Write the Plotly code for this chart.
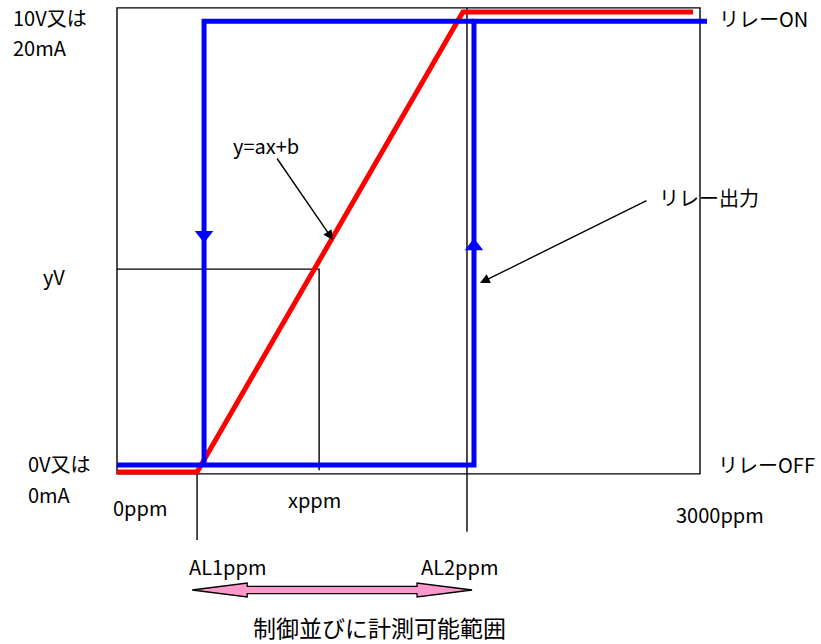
import plotly.graph_objects as go

# ---------------- data (ppm on x, volts on y) ----------------
frame_ppm = [0, 3000]
frame_volt = [-0.04, 10.09]

AL1_ppm = 412
AL2_ppm = 1801

analog_x = [0, 412, 1780, 2964]          # red analogue output y = ax + b
analog_y = [0, 0, 10, 10]

relay_low = 0.15
relay_high = 9.80
relay_on_ppm = 1837                       # relay switches ON when rising
relay_off_ppm = 448                       # relay switches OFF when falling
relay_end_ppm = 3036
relay_up_x = [0, relay_on_ppm, relay_on_ppm, relay_end_ppm]
relay_up_y = [relay_low, relay_low, relay_high, relay_high]
relay_down_x = [relay_on_ppm, relay_off_ppm, relay_off_ppm]
relay_down_y = [relay_high, relay_high, relay_low]
relay_dir_x = [relay_off_ppm, relay_on_ppm]
relay_dir_y = [5.15, 4.91]
relay_dir_sym = ["triangle-down", "triangle-up"]

sample_x = 1040                           # xppm
sample_y = 4.41                           # yV

al1_guide_y = [-0.02, -1.48]
al2_guide_y = [10.09, -1.30]

range_start = 387
range_end = 1827
range_y = -2.565

# ---------------- figure ----------------
PX_PER_PPM = 583 / 3000
PX_PER_V = 46
X0, Y0 = 117, 472
W, H = 821, 644
xr = [(0 - X0) / PX_PER_PPM, (W - X0) / PX_PER_PPM]
yr = [(Y0 - H) / PX_PER_V, Y0 / PX_PER_V]

FONT = "Noto Sans CJK JP, Noto Sans, sans-serif"
fig = go.Figure()

thin = dict(color="black", width=1.4)
# guide lines
fig.add_trace(go.Scatter(x=[AL1_ppm, AL1_ppm], y=al1_guide_y, mode="lines", line=thin))
fig.add_trace(go.Scatter(x=[AL2_ppm, AL2_ppm], y=al2_guide_y, mode="lines", line=thin))
fig.add_trace(go.Scatter(x=[frame_ppm[0], sample_x, sample_x], y=[sample_y, sample_y, 0.04],
                         mode="lines", line=thin))

# analogue output
fig.add_trace(go.Scatter(x=analog_x, y=analog_y, mode="lines",
                         line=dict(color="#FF0000", width=5)))
# relay output
blue = dict(color="#0000FF", width=5)
fig.add_trace(go.Scatter(x=relay_up_x, y=relay_up_y, mode="lines", line=blue))
fig.add_trace(go.Scatter(x=relay_down_x, y=relay_down_y, mode="lines", line=blue))
fig.add_trace(go.Scatter(x=relay_dir_x, y=relay_dir_y, mode="markers",
                         marker=dict(symbol=relay_dir_sym, size=16, color="#0000FF")))

# pink double arrow
hl = 55 / PX_PER_PPM
hh = 7 / PX_PER_V
sh = 3.7 / PX_PER_V
s, e, c = range_start, range_end, range_y
px = [s, s + hl, s + hl, e - hl, e - hl, e, e - hl, e - hl, s + hl, s + hl, s]
py = [c, c + hh, c + sh, c + sh, c + hh, c, c - hh, c - sh, c - sh, c - hh, c]
fig.add_trace(go.Scatter(x=px, y=py, mode="lines", fill="toself", fillcolor="#FF99CC",
                         line=dict(color="black", width=1.3)))

# frame
fig.add_shape(type="rect", x0=frame_ppm[0], x1=frame_ppm[1], y0=frame_volt[0], y1=frame_volt[1],
              line=dict(color="black", width=1.4), layer="below")

def px2ppm(p):
    return (p - X0) / PX_PER_PPM

def py2v(p):
    return (Y0 - p) / PX_PER_V

labels = [
    ("10V又は", 12, 17.5, 20),
    ("20mA", 12, 47.5, 20),
    ("yV", 42, 276, 20),
    ("0V又は", 27, 463, 20),
    ("0mA", 27, 494, 20),
    ("0ppm", 112, 507, 20),
    ("xppm", 287, 499, 20),
    ("3000ppm", 675, 514, 20),
    ("リレーOFF", 717, 464, 20),
    ("リレーON", 718, 18, 20),
    ("リレー出力", 658, 197, 20),
    ("y=ax+b", 232, 145, 20),
    ("AL1ppm", 188, 566, 20),
    ("AL2ppm", 420, 566, 20),
    ("制御並びに計測可能範囲", 252, 627, 23),
]
for t, lx, cy, fs in labels:
    fig.add_annotation(x=px2ppm(lx), y=py2v(cy), text=t, showarrow=False,
                       xanchor="left", yanchor="middle", borderpad=0,
                       font=dict(family=FONT, size=fs, color="black"))

# pointer arrows
for (tx, ty, hx, hy) in [(276, 157, 333, 240), (648, 200, 480, 283)]:
    fig.add_annotation(x=px2ppm(hx), y=py2v(hy), ax=px2ppm(tx), ay=py2v(ty),
                       axref="x", ayref="y", xref="x", yref="y", text="",
                       showarrow=True, arrowhead=2, arrowsize=1.4, arrowwidth=1.4,
                       arrowcolor="black", standoff=0)

fig.update_layout(
    width=W, height=H, margin=dict(l=0, r=0, t=0, b=0),
    paper_bgcolor="white", plot_bgcolor="white", showlegend=False,
    xaxis=dict(range=xr, visible=False, fixedrange=True),
    yaxis=dict(range=yr, visible=False, fixedrange=True),
)
fig.write_html("out.html", config={"displayModeBar": False},
               post_script="document.body.style.margin='0';document.body.style.overflow='hidden';")
